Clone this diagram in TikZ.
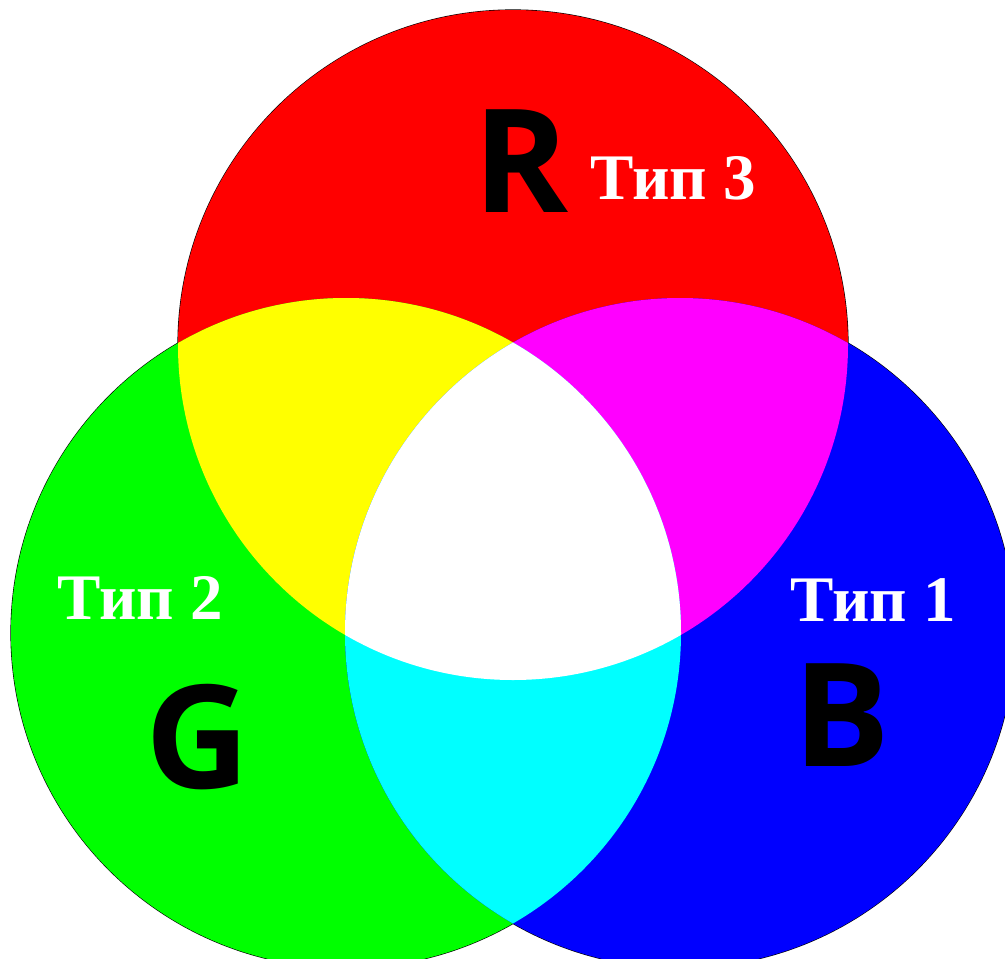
\documentclass[tikz,border=0pt]{standalone}
\usepackage{fontspec}
\setmainfont{Liberation Serif}
\newfontfamily\letterfont{Open Sans}
\usepackage{tikz}
\usetikzlibrary{positioning}
\definecolor{rgbred}{RGB}{255,0,0}
\definecolor{rgbgreen}{RGB}{0,255,0}
\definecolor{rgbblue}{RGB}{0,0,255}
\definecolor{rgbyellow}{RGB}{255,255,0}
\definecolor{rgbmagenta}{RGB}{255,0,255}
\definecolor{rgbcyan}{RGB}{0,255,255}

\begin{document}
\begin{tikzpicture}[x=1pt,y=-1pt,
  letter/.style={font=\letterfont\bfseries\fontsize{144}{144}\selectfont,
    text=black, inner sep=0pt},
  typ/.style={font=\bfseries\fontsize{65}{65}\selectfont,
    text=white, inner sep=0pt},
  rim/.style={draw=black, line width=1.2pt}
]
  \useasboundingbox (0,0) rectangle (1005,959);
  \coordinate (cr) at (513,345);
  \coordinate (cg) at (346,633);
  \coordinate (cb) at (680,633);
  % outer rim, half of it covered by the fills
  \foreach \c in {cr,cg,cb}
    \draw[rim] (\c) circle (335pt);
  \fill[rgbred] (cr) circle (335pt);
  \fill[rgbgreen] (cg) circle (335pt);
  \fill[rgbblue] (cb) circle (335pt);
  % mixed colours
  \begin{scope}
    \clip (cr) circle (335pt);
    \fill[rgbyellow] (cg) circle (335pt);
    \fill[rgbmagenta] (cb) circle (335pt);
  \end{scope}
  \begin{scope}
    \clip (cg) circle (335pt);
    \fill[rgbcyan] (cb) circle (335pt);
    \clip (cb) circle (335pt);
    \fill[white] (cr) circle (335pt);
  \end{scope}
  % labels
  \node[letter] (lr) at (521,161) {R};
  \node[typ] (t3) at (673,178) {Тип 3};
  \node[typ] (t2) at (140,598) {Тип 2};
  \node[letter] (lg) at (198,737) {G};
  \node[typ] (t1) at (873,600) {Тип 1};
  \node[letter] (lb) at (842,715) {B};
\end{tikzpicture}
\end{document}
